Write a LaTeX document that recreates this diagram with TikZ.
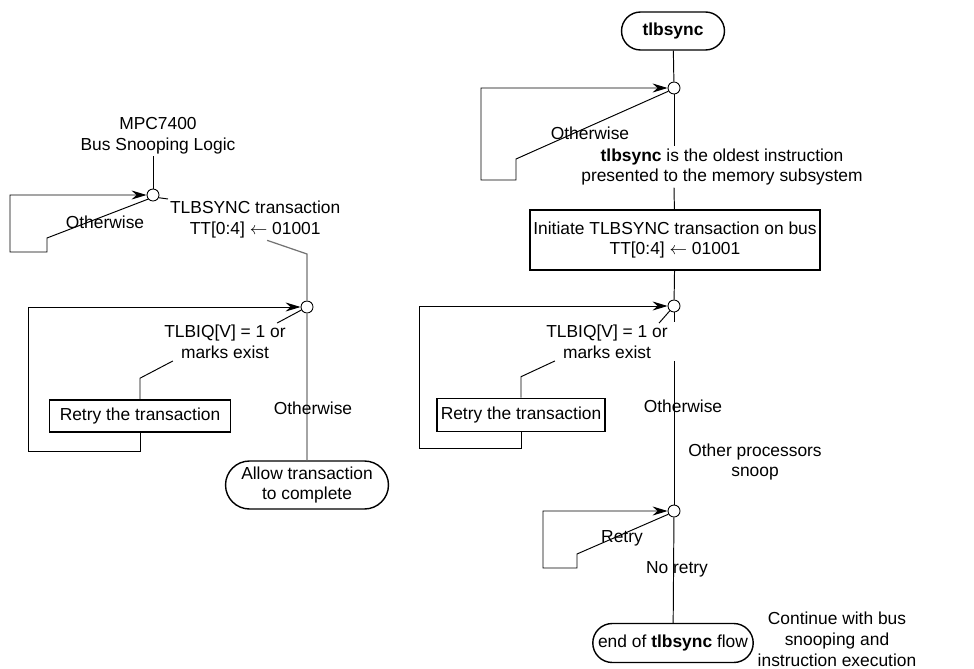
\documentclass[tikz,border=0pt]{standalone}
\usepackage{fontspec}
\setmainfont{Liberation Sans}
\usetikzlibrary{positioning,arrows.meta,shapes.misc}
\tikzset{
  lbl/.style={align=center, inner sep=1pt, font=\fontsize{9.9}{11.9}\selectfont},
  act/.style={rectangle, draw, line width=0.9pt, align=center, inner sep=2pt,
              font=\fontsize{9.9}{11.9}\selectfont},
  term/.style={rounded rectangle, draw, line width=0.8pt, align=center, inner sep=2pt,
               font=\fontsize{9.9}{11.9}\selectfont},
  junc/.style={circle, draw, fill=white, inner sep=0pt, minimum size=0.24cm, line width=0.5pt},
  wire/.style={line width=0.55pt},
  gwire/.style={line width=0.7pt, draw=black!55},
  flow/.style={wire, -{Stealth[length=3mm, width=1.8mm, inset=1mm]}}
}
\begin{document}
\begin{tikzpicture}[x=0.02cm, y=-0.02cm]
\useasboundingbox (0,0) rectangle (974,669);
% left: bus snooping logic
\node[lbl] (mpc) at (158,136) {MPC7400\\Bus Snooping Logic};
\node[junc] (j1) at (153,195) {};
\node[lbl, anchor=north west] (tlbtr) at (168,199) {TLBSYNC transaction\\TT[0:4] $\leftarrow$ 01001};
\node[junc] (j2) at (307,307) {};
\node[lbl] (cond1) at (225,342) {TLBIQ[V] = 1 or\\marks exist};
\node[act, minimum width=3.62cm, minimum height=0.64cm] (retry1) at (140,416) {Retry the transaction};
\node[term, minimum width=3.4cm, minimum height=0.96cm] (allow) at (307,485) {Allow transaction\\to complete};
\draw[wire] (j1 |- mpc.south) -- (j1);
\draw[flow] (j1.-140) -- (47,238) |- (10,252) |- (j1.west);
\draw[wire] (j1.-25) -- (tlbtr.north west);
\draw[gwire] (tlbtr.-60) -- (307,254) -- (j2);
\draw[wire] (cond1.20) -- (j2);
\draw[wire] (retry1.north) -- ++(0,-21) -- (cond1.-160);
\draw[flow] (retry1.south) |- (28,451) |- (j2.west);
\draw[gwire] (j2) -- (allow);
\node[lbl] at (105,222) {Otherwise};
\node[lbl] at (313,408) {Otherwise};
% right: tlbsync flow
\node[term, minimum width=2.2cm, minimum height=0.76cm] (start) at (673,31) {\textbf{tlbsync}};
\node[junc] (j3) at (674,88) {};
\node[lbl] (oldest) at (722,167) {\textbf{tlbsync} is the oldest instruction\\presented to the memory subsystem};
\node[act, minimum width=5.72cm, minimum height=1.2cm] (init) at (675,240) {Initiate TLBSYNC transaction on bus\\TT[0:4] $\leftarrow$ 01001};
\node[junc] (j4) at (674,306) {};
\node[lbl] (cond2) at (607,342) {TLBIQ[V] = 1 or\\marks exist};
\node[act, minimum width=3.32cm, minimum height=0.66cm] (retry2) at (521,415) {Retry the transaction};
\node[junc] (j5) at (674,511) {};
\node[term, minimum width=3cm, minimum height=0.78cm] (end) at (673,643) {end of \textbf{tlbsync} flow};
\draw[wire] (start) -- (j3);
\draw[wire] (j3) -- (j3 |- oldest.north);
\draw[wire] (j3 |- oldest.south) -- (init);
\draw[flow] (j3.-150) -- (516,159) |- (481,180) |- (j3.west);
\draw[wire] (init) -- (j4);
\draw[wire] (cond2.20) -- (j4);
\draw[wire] (retry2.north) -- ++(0,-21) -- (cond2.-160);
\draw[flow] (retry2.south) |- (419,448) |- (j4.west);
\draw[wire] (j4) -- ++(0,16);
\draw[wire] (j4 |- cond2.south) -- (j5);
\draw[flow] (j5.-150) -- (577,554) |- (543,568) |- (j5.west);
\draw[wire] (j5) -- (end);
\node[lbl] at (590,133) {Otherwise};
\node[lbl] at (683,406) {Otherwise};
\node[lbl] at (755,462) {Other processors\\snoop};
\node[lbl] at (622,538) {Retry};
\node[lbl] at (677,569) {No retry};
\node[lbl, anchor=south] at (837,669) {Continue with bus\\snooping and\\instruction execution};
\end{tikzpicture}
\end{document}
